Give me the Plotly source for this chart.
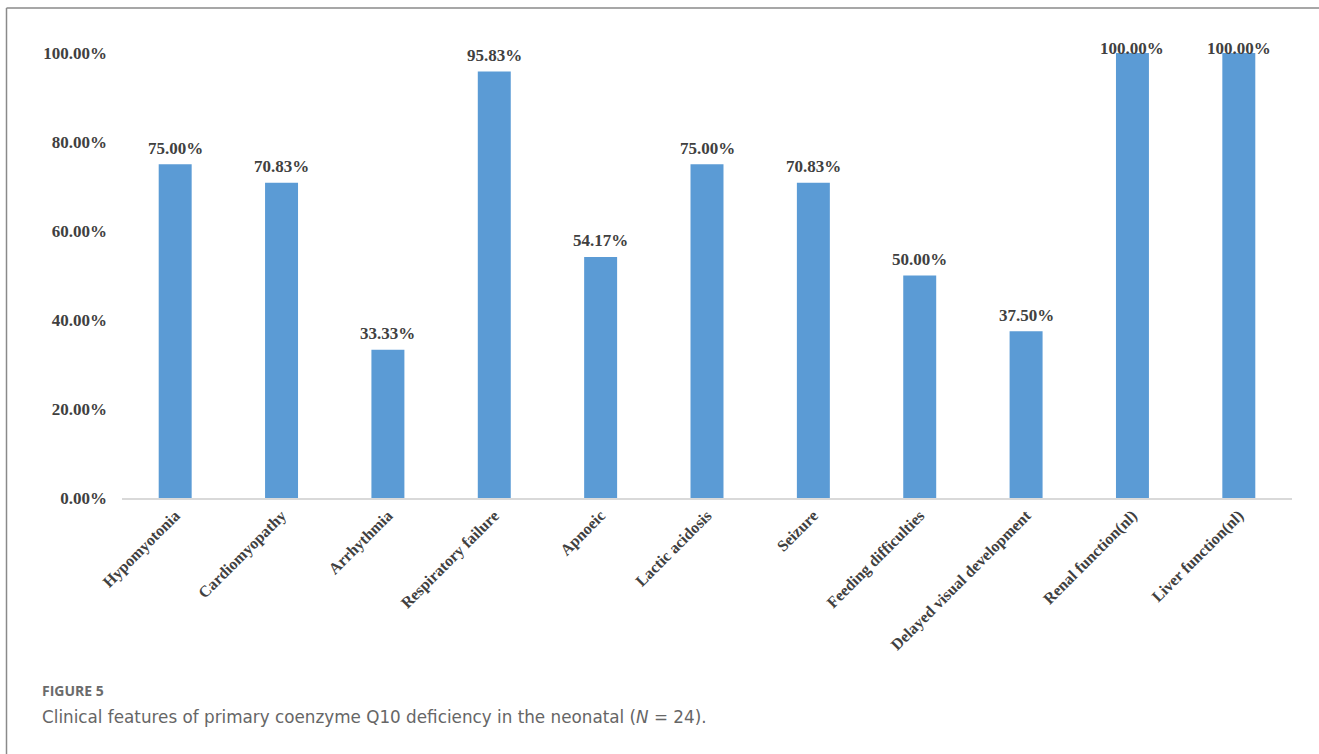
import plotly.graph_objects as go

# Clinical features and their frequency (%) in the neonatal cohort
features = [
    "Hypomyotonia", "Cardiomyopathy", "Arrhythmia", "Respiratory failure",
    "Apnoeic", "Lactic acidosis", "Seizure", "Feeding difficulties",
    "Delayed visual development", "Renal function(nl)", "Liver function(nl)",
]
percent = [75.00, 70.83, 33.33, 95.83, 54.17, 75.00, 70.83, 50.00, 37.50, 100.00, 100.00]
y_ticks = [0, 20, 40, 60, 80, 100]
y_tick_text = ["0.00%", "20.00%", "40.00%", "60.00%", "80.00%", "100.00%"]

W, H = 1319, 754
L, R, T, B = 122, 27, 53, 256
PW, PH = W - L - R, H - T - B

def px_x(px):
    return (px - L) / PW

def px_y(py):
    return (H - B - py) / PH

SERIF = "Liberation Serif, Times New Roman, serif"
TXT = "#404040"

fig = go.Figure(go.Bar(
    x=features, y=percent,
    marker=dict(color="#5B9BD5", line=dict(width=0)),
    width=0.31,
    hoverinfo="skip",
))

# value labels above each bar (kept inside the chart area at the top)
annotations = []
for f, v in zip(features, percent):
    bar_top = (H - B) - v / 100 * PH
    shift = min(16, bar_top - 48)
    annotations.append(dict(
        x=f, y=v, xref="x", yref="y", text=f"{v:.2f}%", showarrow=False,
        yanchor="middle", yshift=shift,
        font=dict(family=SERIF, size=17, color=TXT, weight="bold"),
    ))

annotations += [
    dict(x=px_x(40), y=px_y(690), xref="paper", yref="paper", xanchor="left",
         yanchor="middle", showarrow=False, text="FIGURE 5",
         font=dict(family="Open Sans, sans-serif", size=14, color="#6b6b6b", weight="bold")),
    dict(x=px_x(40), y=px_y(717), xref="paper", yref="paper", xanchor="left",
         yanchor="middle", showarrow=False,
         text="Clinical features of primary coenzyme Q10 deficiency in the neonatal (<i>N</i> = 24).",
         font=dict(family="DejaVu Sans, sans-serif", size=16.8, color="#666666")),
]

# frame around the figure panel
shapes = [
    dict(type="line", xref="paper", yref="paper",
         x0=px_x(6.5), x1=px_x(6.5), y0=px_y(8), y1=px_y(760),
         line=dict(color="#8a8a8a", width=1.5)),
    dict(type="line", xref="paper", yref="paper",
         x0=px_x(6.5), x1=px_x(1325), y0=px_y(8), y1=px_y(8),
         line=dict(color="#8a8a8a", width=1.5)),
]

fig.update_layout(
    width=W, height=H,
    margin=dict(l=L, r=R, t=T, b=B, autoexpand=False),
    paper_bgcolor="white", plot_bgcolor="white",
    showlegend=False,
    annotations=annotations,
    shapes=shapes,
    bargap=0.69,
)
fig.update_xaxes(
    tickangle=-45,
    tickfont=dict(family=SERIF, size=16, color=TXT, weight="bold"),
    showline=True, linecolor="#d9d9d9", linewidth=2,
    showgrid=False, ticks="", zeroline=False,
)
fig.update_yaxes(
    range=[0, 100], tickvals=y_ticks, ticktext=y_tick_text,
    tickfont=dict(family=SERIF, size=17, color=TXT, weight="bold"),
    showgrid=False, zeroline=False, showline=False, ticks="",
    ticklabelstandoff=14,
)

fig.write_html("out.html")
